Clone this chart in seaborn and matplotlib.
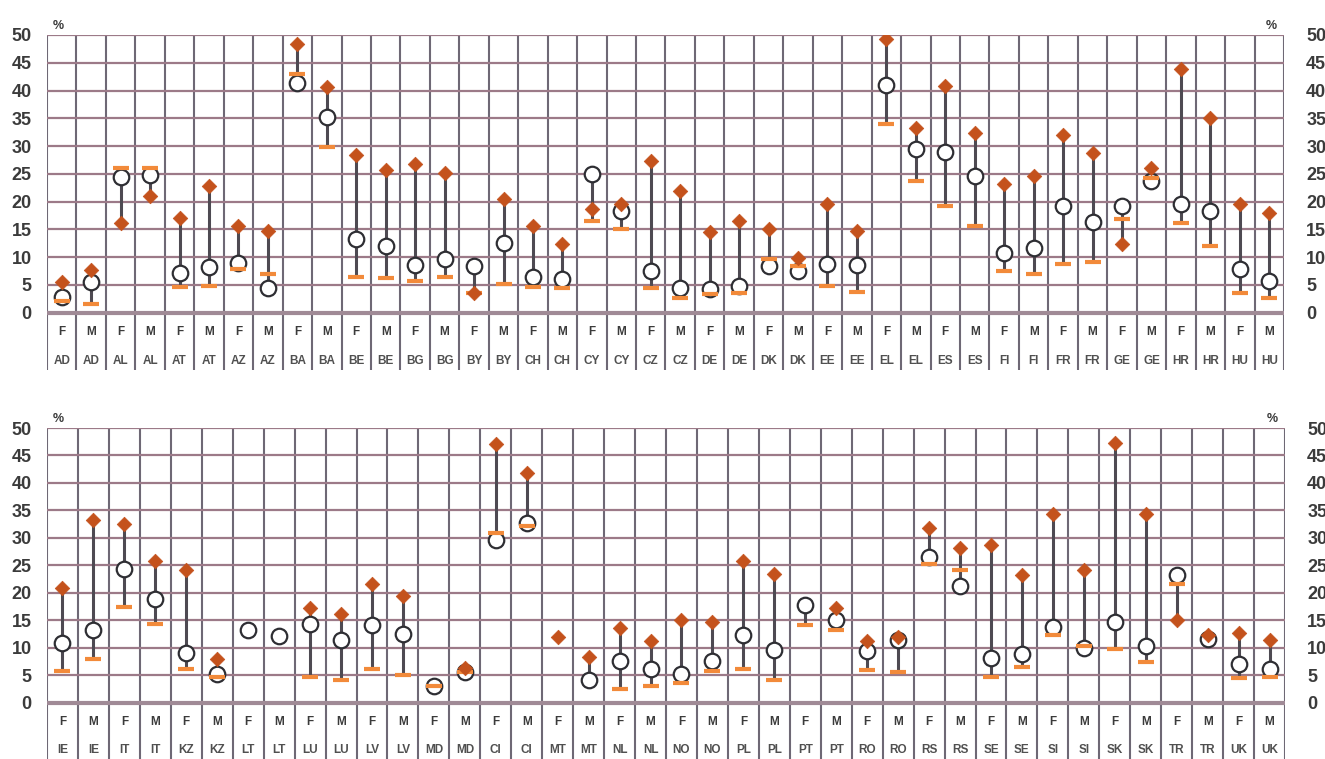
import numpy as np
import pandas as pd
import matplotlib.pyplot as plt
import seaborn as sns

nan = np.nan

# top panel
top_countries = ['AD', 'AL', 'AT', 'AZ', 'BA', 'BE', 'BG', 'BY', 'CH', 'CY', 'CZ',
                 'DE', 'DK', 'EE', 'EL', 'ES', 'FI', 'FR', 'GE', 'HR', 'HU']
# open circle, diamond, dash  (F, M for each country)
top_circle = [2.8, 5.5, 24.5, 24.8, 7.1, 8.2, 9.0, 4.5, 41.3, 35.3, 13.2, 12.1, 8.6, 9.6,
              8.4, 12.6, 6.4, 6.1, 25.0, 18.3, 7.5, 4.5, 4.2, 4.9, 8.4, 7.5, 8.7, 8.6,
              41.0, 29.5, 29.0, 24.6, 10.7, 11.7, 19.2, 16.3, 19.2, 23.8, 19.6, 18.3, 7.9, 5.7]
top_diamond = [5.5, 7.7, 16.2, 21.1, 17.1, 22.8, 15.7, 14.8, 48.4, 40.7, 28.4, 25.7, 26.8, 25.1,
               3.6, 20.5, 15.7, 12.4, 18.7, 19.5, 27.4, 22.0, 14.6, 16.5, 15.0, 9.9, 19.5, 14.8,
               49.2, 33.2, 40.8, 32.3, 23.1, 24.7, 32.0, 28.7, 12.4, 26.0, 43.9, 35.0, 19.6, 18.0]
top_dash = [2.1, 1.5, 26.0, 26.0, 4.7, 4.9, 7.9, 6.9, 43.0, 29.9, 6.5, 6.3, 5.8, 6.5,
            3.5, 5.1, 4.7, 4.5, 16.6, 15.1, 4.5, 2.6, 3.3, 3.6, 9.7, 8.4, 4.9, 3.7,
            34.0, 23.7, 19.2, 15.7, 7.6, 7.0, 8.8, 9.2, 16.9, 24.3, 16.2, 12.0, 3.5, 2.6]

# bottom panel
bot_countries = ['IE', 'IT', 'KZ', 'LT', 'LU', 'LV', 'MD', 'CI', 'MT', 'NL',
                 'NO', 'PL', 'PT', 'RO', 'RS', 'SE', 'SI', 'SK', 'TR', 'UK']
bot_circle = [10.9, 13.2, 24.4, 18.9, 9.1, 5.3, 13.3, 12.1, 14.4, 11.4, 14.2, 12.6, 3.0, 5.6,
              29.6, 32.7, nan, 4.2, 7.7, 6.1, 5.3, 7.7, 12.4, 9.6, 17.8, 15.0, 9.5, 11.4,
              26.5, 21.3, 8.2, 8.9, 13.8, 9.9, 14.7, 10.3, 23.2, 11.6, 7.1, 6.2]
bot_diamond = [20.9, 33.2, 32.6, 25.9, 24.1, 7.9, nan, nan, 17.3, 16.2, 21.7, 19.4, nan, 6.3,
               47.1, 41.9, 12.0, 8.3, 13.6, 11.2, 15.0, 14.8, 25.8, 23.5, nan, 17.3, 11.2, 11.9,
               31.8, 28.1, 28.8, 23.2, 34.4, 24.1, 47.3, 34.4, 15.0, 12.4, 12.7, 11.5]
bot_dash = [5.8, 7.9, 17.4, 14.4, 6.1, 4.8, nan, nan, 4.8, 4.2, 6.1, 5.0, 3.0, 5.6,
            30.9, 32.1, nan, nan, 2.5, 3.0, 3.6, 5.8, 6.1, 4.2, 14.1, 13.2, 5.9, 5.6,
            25.3, 24.1, 4.8, 6.5, 12.4, 10.3, 9.8, 7.5, 21.7, nan, 4.5, 4.8]

sexes = ['F', 'M']

sns.set_theme(style='white')
plt.rcParams['font.family'] = ['Liberation Sans Narrow', 'Liberation Sans', 'DejaVu Sans']

txt = '#3b3b3b'
vcol = '#6e6875'
hcol = '#9c7a88'
line_col = '#4e4a52'
diamond_col = '#c4521c'
dash_col = '#f28a3a'


def make_df(countries, circle, diamond, dash):
    n = len(countries) * 2
    df = pd.DataFrame({
        'pos': np.arange(n),
        'country': np.repeat(countries, 2),
        'sex': sexes * len(countries),
        'circle': circle,
        'diamond': diamond,
        'dash': dash,
    })
    df['lo'] = df[['circle', 'diamond', 'dash']].min(axis=1)
    df['hi'] = df[['circle', 'diamond', 'dash']].max(axis=1)
    return df


def draw(ax, df, ymin):
    n = len(df)
    ax.set_xlim(-0.5, n - 0.5)
    ax.set_ylim(ymin, 50)
    # grid
    for x in np.arange(-0.5, n, 1.0):
        ax.axvline(x, color=vcol, lw=1.5, zorder=0)
    for y in range(5, 51, 5):
        ax.axhline(y, color=hcol, lw=1.6, zorder=0)
    ax.axhline(0, color='#a08a96', lw=3, zorder=0)

    ax.vlines(df['pos'], df['lo'], df['hi'], color=line_col, lw=2.2, zorder=2)
    sns.scatterplot(data=df, x='pos', y='circle', ax=ax, marker='o', s=125,
                    color='white', edgecolor='#2e2e33', linewidth=1.6, zorder=3, legend=False)
    sns.scatterplot(data=df, x='pos', y='dash', ax=ax, marker='_', s=140,
                    color=dash_col, linewidth=3, zorder=4, legend=False)
    sns.scatterplot(data=df, x='pos', y='diamond', ax=ax, marker='D', s=55,
                    color=diamond_col, edgecolor=diamond_col, linewidth=0.5, zorder=5, legend=False)

    for p, s, c in zip(df['pos'], df['sex'], df['country']):
        ax.text(p, -3.4, s, ha='center', va='center', fontsize=8.5,
                fontweight='bold', color=txt)
        ax.text(p, -8.6, c, ha='center', va='center', fontsize=8.5,
                fontweight='bold', color='#505050')

    ax.set_xticks([])
    ax.set_yticks(range(0, 51, 5))
    ax.tick_params(axis='y', length=0, pad=11, labelsize=13, labelcolor=txt)
    for lab in ax.get_yticklabels():
        lab.set_fontweight('bold')
    ax.set_xlabel('')
    ax.set_ylabel('')
    for sp in ax.spines.values():
        sp.set_visible(False)

    ax2 = ax.twinx()
    ax2.set_ylim(ymin, 50)
    ax2.set_yticks(range(0, 51, 5))
    ax2.tick_params(axis='y', length=0, pad=16, labelsize=13, labelcolor=txt)
    for lab in ax2.get_yticklabels():
        lab.set_fontweight('bold')
    for sp in ax2.spines.values():
        sp.set_visible(False)
    ax2.grid(False)

    ax.text(0.005, 1.008, '%', transform=ax.transAxes, ha='left', va='bottom',
            fontsize=9, fontweight='bold', color=txt)
    ax.text(0.994, 1.008, '%', transform=ax.transAxes, ha='right', va='bottom',
            fontsize=9, fontweight='bold', color=txt)


fig = plt.figure(figsize=(13.25, 7.59), dpi=100)
ax_top = fig.add_axes([47 / 1325, 1 - 370 / 759, (1284 - 47) / 1325, (370 - 35) / 759])
ax_bot = fig.add_axes([47 / 1325, 0.0, (1285 - 47) / 1325, 1 - 428 / 759])

draw(ax_top, make_df(top_countries, top_circle, top_diamond, top_dash), -10.3)
draw(ax_bot, make_df(bot_countries, bot_circle, bot_diamond, bot_dash), -10.2)

fig.savefig('out.png', dpi=100)
